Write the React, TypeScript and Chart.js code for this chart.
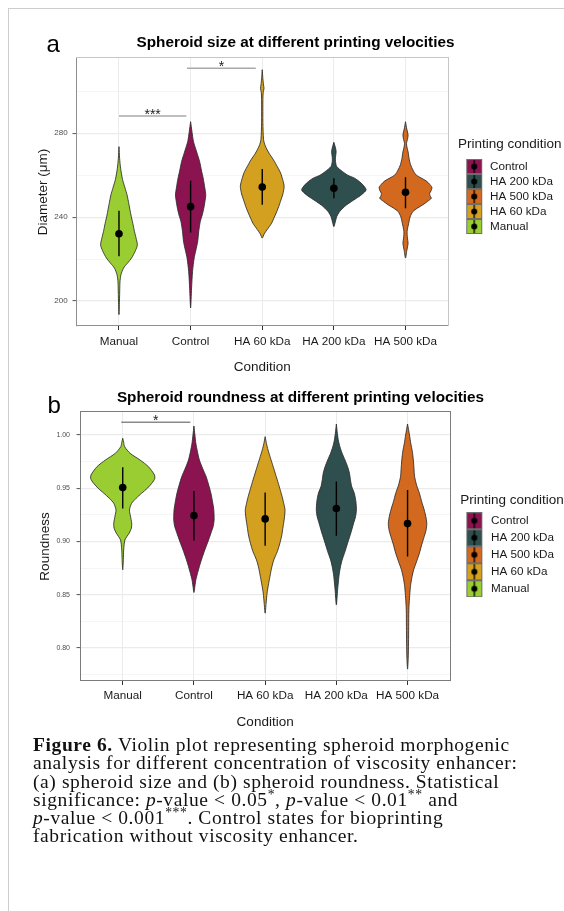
import React, { useEffect, useRef } from 'react';
import { Chart, registerables } from 'chart.js';

Chart.register(...registerables);
Chart.defaults.font.family = "'Liberation Sans', Arial, Helvetica, sans-serif";

// ---------- shared ----------
const categories = ['Manual', 'Control', 'HA 60 kDa', 'HA 200 kDa', 'HA 500 kDa'];
const fillColors = ['#9ACD32', '#8B1450', '#D4A020', '#2F4F4F', '#D2691E'];
const legendTitle = 'Printing condition';
const xTitle = 'Condition';

// ---------- panel a : spheroid size (diameter, µm) ----------
// violin profiles: y values (top -> bottom) and relative density (1 = widest violin)
const sizeManualY = [273.6, 268, 263.3, 258, 253.8, 250.6, 246, 241.1, 237, 233.2, 230, 226.8, 224, 220.5, 218, 215.7, 212.5, 209, 206.2, 200, 193.5];
const sizeManualD = [0, 0.02, 0.05, 0.11, 0.19, 0.25, 0.31, 0.37, 0.43, 0.48, 0.53, 0.57, 0.51, 0.39, 0.26, 0.14, 0.06, 0.03, 0.025, 0.015, 0];
const sizeControlY = [285.5, 281, 276, 271, 266.5, 262, 258.6, 254, 250.6, 247, 244.3, 241, 237.9, 233, 228.4, 224, 220.5, 214.1, 206.2, 196.7];
const sizeControlD = [0, 0.04, 0.09, 0.19, 0.28, 0.34, 0.39, 0.44, 0.47, 0.44, 0.41, 0.36, 0.3, 0.25, 0.22, 0.16, 0.11, 0.06, 0.03, 0];
const sizeHA60Y = [310.3, 306, 303, 301.4, 299.5, 296, 285, 277, 274.5, 272.2, 270, 267.3, 264, 261, 257, 254.6, 251, 248.2, 245, 241.9, 239.5, 237.1, 234, 232, 230];
const sizeHA60D = [0, 0.02, 0.04, 0.055, 0.03, 0.02, 0.02, 0.04, 0.08, 0.15, 0.23, 0.35, 0.47, 0.57, 0.65, 0.68, 0.64, 0.58, 0.51, 0.43, 0.36, 0.29, 0.15, 0.06, 0];
const sizeHA200Y = [275.7, 273, 271.2, 268.5, 266.5, 264.1, 261.7, 260, 258.6, 257, 255.4, 253, 250.6, 249, 247.4, 245.8, 244.3, 242.5, 240.3, 237.5, 235.5];
const sizeHA200D = [0, 0.05, 0.07, 0.05, 0.05, 0.09, 0.27, 0.43, 0.64, 0.79, 0.9, 1.0, 0.85, 0.7, 0.54, 0.39, 0.28, 0.17, 0.09, 0.04, 0];
const sizeHA500Y = [285.5, 282, 279.2, 277, 275.2, 273, 271.2, 268, 264.9, 262.5, 260.1, 257.3, 255.5, 254.1, 252.5, 251.4, 250.2, 249, 247.5, 245.9, 244.3, 242.7, 240, 237.9, 233.2, 230, 227.6, 224, 220.5];
const sizeHA500D = [0, 0.04, 0.08, 0.06, 0.03, 0.05, 0.08, 0.11, 0.16, 0.23, 0.33, 0.64, 0.76, 0.82, 0.79, 0.75, 0.76, 0.8, 0.68, 0.54, 0.37, 0.23, 0.14, 0.11, 0.05, 0.06, 0.08, 0.04, 0];
const sizeMean = [232.1, 245.0, 254.4, 253.8, 251.9];
const sizeLower = [221.3, 232.7, 245.9, 249.0, 244.3];
const sizeUpper = [243.1, 257.4, 263.0, 258.6, 259.0];
const sizeTicks = [200, 220, 240, 260, 280, 300];
const sizeTickLabels = ['200', '', '240', '', '280', ''];
const sizeSigLevel = [288.2, 311.0];
const sizeSigFrom = [1.0, 1.95];
const sizeSigTo = [1.94, 2.91];
const sizeSigText = ['***', '*'];

// ---------- panel b : spheroid roundness ----------
const roundManualY = [0.9969, 0.993, 0.989, 0.9828, 0.9765, 0.9703, 0.9625, 0.959, 0.9547, 0.95, 0.9453, 0.9406, 0.9359, 0.9296, 0.924, 0.9172, 0.9125, 0.9078, 0.9015, 0.8921, 0.883, 0.8734];
const roundManualD = [0, 0.03, 0.06, 0.23, 0.54, 0.8, 0.99, 1.0, 0.91, 0.77, 0.59, 0.42, 0.28, 0.21, 0.24, 0.28, 0.27, 0.2, 0.07, 0.03, 0.02, 0];
const roundControlY = [1.0084, 1.0, 0.9922, 0.9843, 0.9765, 0.9687, 0.9609, 0.9531, 0.9453, 0.9375, 0.9296, 0.9203, 0.914, 0.9078, 0.9, 0.8921, 0.8843, 0.8765, 0.87, 0.864, 0.858, 0.8521];
const roundControlD = [0, 0.03, 0.06, 0.11, 0.17, 0.27, 0.38, 0.46, 0.53, 0.58, 0.62, 0.63, 0.6, 0.53, 0.44, 0.34, 0.25, 0.17, 0.11, 0.06, 0.03, 0];
const roundHA60Y = [0.9984, 0.992, 0.9859, 0.978, 0.9703, 0.9625, 0.9547, 0.9484, 0.9421, 0.9358, 0.9296, 0.922, 0.914, 0.906, 0.8984, 0.8905, 0.8827, 0.875, 0.8671, 0.859, 0.8515, 0.842, 0.8327];
const roundHA60D = [0, 0.04, 0.09, 0.17, 0.25, 0.33, 0.41, 0.47, 0.53, 0.58, 0.62, 0.6, 0.56, 0.52, 0.46, 0.38, 0.27, 0.2, 0.15, 0.1, 0.06, 0.03, 0];
const roundHA200Y = [1.0103, 1.003, 0.9953, 0.989, 0.9828, 0.9765, 0.9703, 0.964, 0.9578, 0.9515, 0.9453, 0.9375, 0.9296, 0.9234, 0.9172, 0.9078, 0.8984, 0.8905, 0.8827, 0.875, 0.8671, 0.855, 0.8405];
const roundHA200D = [0, 0.025, 0.06, 0.11, 0.18, 0.27, 0.35, 0.41, 0.44, 0.48, 0.56, 0.61, 0.625, 0.6, 0.54, 0.45, 0.35, 0.27, 0.18, 0.12, 0.08, 0.04, 0];
const roundHA500Y = [1.0103, 1.0, 0.9922, 0.9843, 0.9765, 0.9687, 0.9609, 0.9531, 0.9453, 0.9375, 0.9296, 0.9234, 0.9172, 0.911, 0.9046, 0.8968, 0.889, 0.881, 0.8734, 0.8655, 0.8577, 0.8467, 0.8358, 0.82, 0.8046, 0.79, 0.7802];
const roundHA500D = [0, 0.06, 0.1, 0.15, 0.18, 0.2, 0.22, 0.28, 0.37, 0.44, 0.52, 0.57, 0.6, 0.58, 0.52, 0.44, 0.37, 0.28, 0.19, 0.13, 0.09, 0.06, 0.04, 0.035, 0.03, 0.02, 0];
const roundMean = [0.9506, 0.9243, 0.9212, 0.9309, 0.9168];
const roundLower = [0.9309, 0.9009, 0.8959, 0.9053, 0.8858];
const roundUpper = [0.9697, 0.9475, 0.9459, 0.9562, 0.9484];
const roundTicks = [0.775, 0.8, 0.825, 0.85, 0.875, 0.9, 0.925, 0.95, 0.975, 1.0];
const roundTickLabels = ['', '0.80', '', '0.85', '', '0.90', '', '0.95', '', '1.00'];
const roundSigLevel = [1.012];
const roundSigFrom = [0.98];
const roundSigTo = [1.95];
const roundSigText = ['*'];

// ---------- helpers ----------
function violinData(center: number, ys: number[], dens: number[], half: number) {
  const right = ys.map((y, i) => ({ x: center + dens[i] * half, y }));
  const left = ys.map((y, i) => ({ x: center - dens[i] * half, y })).reverse();
  return right.concat(left.slice(1));
}

function legendKey(color: string, imgW: number, keyX: number, keyH: number) {
  const c = document.createElement('canvas');
  c.width = imgW;
  c.height = keyH;
  const g = c.getContext('2d') as CanvasRenderingContext2D;
  g.fillStyle = color;
  g.fillRect(keyX, 0, 16, keyH);
  g.strokeStyle = '#6e6e6e';
  g.lineWidth = 1;
  g.strokeRect(keyX + 0.5, 0.5, 15, keyH - 1);
  g.strokeStyle = '#000';
  g.lineWidth = 1.3;
  g.beginPath();
  g.moveTo(keyX + 8, 1);
  g.lineTo(keyX + 8, keyH - 1);
  g.stroke();
  g.fillStyle = '#000';
  g.beginPath();
  g.arc(keyX + 8, keyH / 2, 3, 0, Math.PI * 2);
  g.fill();
  return c;
}

type Panel = any;

const panelA: Panel = {
  left: 28, top: 28, w: 536, h: 355,
  title: 'Spheroid size at different printing velocities',
  yTitle: 'Diameter (μm)',
  yMin: 188.1, yMax: 315.9,
  ticks: sizeTicks, tickLabels: sizeTickLabels,
  profiles: [[sizeManualY, sizeManualD], [sizeControlY, sizeControlD], [sizeHA60Y, sizeHA60D], [sizeHA200Y, sizeHA200D], [sizeHA500Y, sizeHA500D]],
  mean: sizeMean, low: sizeLower, high: sizeUpper,
  sigLevel: sizeSigLevel, sigFrom: sizeSigFrom, sigTo: sizeSigTo, sigText: sizeSigText,
  sigColor: '#a9a9a9', sigWidth: 1.5,
  yAxisW: 48, xAxisH: 57, y2W: 9.5, padR: 1,
  titlePad: { top: 5.8, bottom: 5.8 },
  xTitlePadB: 7.5, yTitlePadT: 7.2,
  xTickPad: 5.2, yTickPad: 4.8, yTickFont: 8,
  legTitleTop: 79.5, legTitleBottom: 3.7, legPad: 3.3, keyH: 15, keyImgW: 23, keyX: 5, pointW: 22.85,
  borderMain: '#8f8f8f', borderSecond: '#c6c6c6',
};

const panelB: Panel = {
  left: 37, top: 383, w: 527, h: 352,
  title: 'Spheroid roundness at different printing velocities',
  yTitle: 'Roundness',
  yMin: 0.769, yMax: 1.0216,
  ticks: roundTicks, tickLabels: roundTickLabels,
  profiles: [[roundManualY, roundManualD], [roundControlY, roundControlD], [roundHA60Y, roundHA60D], [roundHA200Y, roundHA200D], [roundHA500Y, roundHA500D]],
  mean: roundMean, low: roundLower, high: roundUpper,
  sigLevel: roundSigLevel, sigFrom: roundSigFrom, sigTo: roundSigTo, sigText: roundSigText,
  sigColor: '#505050', sigWidth: 1,
  yAxisW: 43, xAxisH: 54, y2W: 10, padR: 0,
  titlePad: { top: 5.3, bottom: 5.3 },
  xTitlePadB: 4.5, yTitlePadT: 0,
  xTickPad: 3.5, yTickPad: 6.5, yTickFont: 7,
  legTitleTop: 81.45, legTitleBottom: 0, legPad: 5.3, keyH: 17, keyImgW: 20, keyX: 1, pointW: 19.55,
  borderMain: '#7c7c7c', borderSecond: '#7c7c7c',
};

function buildConfig(p: Panel): any {
  const half = 0.45;
  const datasets: any[] = [];
  p.profiles.forEach((pr: number[][], i: number) => {
    datasets.push({
      data: violinData(i + 1, pr[0], pr[1], half),
      borderColor: '#2b2b2b', borderWidth: 0.85,
      backgroundColor: fillColors[i], fill: 'shape',
      pointRadius: 0, tension: 0.25, order: 4,
      xAxisID: 'x', yAxisID: 'y',
    });
  });
  p.low.forEach((lo: number, i: number) => {
    datasets.push({
      data: [{ x: i + 1, y: lo }, { x: i + 1, y: p.high[i] }],
      borderColor: '#000', borderWidth: 1.4, pointRadius: 0, fill: false, order: 3,
      xAxisID: 'x', yAxisID: 'y',
    });
  });
  datasets.push({
    data: p.mean.map((m: number, i: number) => ({ x: i + 1, y: m })),
    showLine: false, pointRadius: 3.8, pointBackgroundColor: '#000', pointBorderWidth: 0,
    order: 2, xAxisID: 'x', yAxisID: 'y',
  });
  p.sigLevel.forEach((lv: number, i: number) => {
    datasets.push({
      data: [{ x: p.sigFrom[i], y: lv }, { x: p.sigTo[i], y: lv }],
      borderColor: p.sigColor, borderWidth: p.sigWidth, pointRadius: 0, fill: false, order: 1,
      xAxisID: 'x', yAxisID: 'y',
    });
  });

  const legendOrder = categories.map((c, i) => i).sort((a, b) => (categories[a] < categories[b] ? -1 : 1));

  const sigPlugin = {
    id: 'sigText',
    afterDatasetsDraw(chart: any) {
      const { ctx } = chart;
      const xs = chart.scales.x;
      const ys = chart.scales.y;
      ctx.save();
      ctx.font = "14px 'Liberation Sans', Arial, sans-serif";
      ctx.fillStyle = '#1a1a1a';
      ctx.textAlign = 'center';
      ctx.textBaseline = 'alphabetic';
      p.sigText.forEach((t: string, i: number) => {
        const px = xs.getPixelForValue((p.sigFrom[i] + p.sigTo[i]) / 2);
        const py = ys.getPixelForValue(p.sigLevel[i]);
        ctx.fillText(t, px, py + 3);
      });
      ctx.restore();
    },
  };

  const catPos = categories.map((_, i) => i + 1);

  return {
    type: 'line',
    data: { datasets },
    plugins: [sigPlugin],
    options: {
      responsive: false,
      animation: false,
      events: [],
      layout: { padding: { left: 0, right: p.padR, top: 0, bottom: 0 } },
      scales: {
        x: {
          type: 'linear', position: 'bottom', min: 0.4, max: 5.6,
          afterBuildTicks: (s: any) => { s.ticks = catPos.map((v) => ({ value: v })); },
          afterFit: (s: any) => { s.height = p.xAxisH; },
          ticks: {
            callback: (v: number) => categories[Math.round(v) - 1],
            font: { size: 11.7 }, color: '#1a1a1a', padding: p.xTickPad, maxRotation: 0, autoSkip: false,
          },
          grid: { color: '#ebebeb', lineWidth: 1, tickColor: '#333', tickLength: 4, tickWidth: 1 },
          border: { color: p.borderMain, width: 1 },
          title: { display: true, text: xTitle, font: { size: 13.5 }, color: '#1a1a1a', padding: { top: 0, bottom: p.xTitlePadB } },
        },
        y: {
          type: 'linear', position: 'left', min: p.yMin, max: p.yMax,
          afterBuildTicks: (s: any) => { s.ticks = p.ticks.map((v: number) => ({ value: v })); },
          afterFit: (s: any) => { s.width = p.yAxisW; },
          ticks: {
            callback: (_v: number, i: number) => p.tickLabels[i],
            font: { size: p.yTickFont }, color: '#4d4d4d', padding: p.yTickPad,
          },
          grid: {
            color: (c: any) => (p.tickLabels[c.index] ? '#ebebeb' : '#f2f2f2'),
            lineWidth: (c: any) => (p.tickLabels[c.index] ? 1.2 : 0.8),
            tickColor: (c: any) => (p.tickLabels[c.index] ? '#555' : 'rgba(0,0,0,0)'),
            tickLength: 3.5, tickWidth: 1,
          },
          border: { color: p.borderMain, width: 1 },
          title: { display: true, text: p.yTitle, font: { size: 13.5 }, color: '#1a1a1a', padding: { top: p.yTitlePadT, bottom: 0 } },
        },
        x2: {
          type: 'linear', position: 'top', display: true, min: 0.4, max: 5.6,
          ticks: { display: false }, grid: { display: false, drawTicks: false },
          border: { color: p.borderSecond, width: 1 },
          afterFit: (s: any) => { s.height = 0; },
        },
        y2: {
          type: 'linear', position: 'right', display: true, min: p.yMin, max: p.yMax,
          ticks: { display: false }, grid: { display: false, drawTicks: false },
          border: { color: p.borderSecond, width: 1 },
          afterFit: (s: any) => { s.width = p.y2W; },
        },
      },
      plugins: {
        tooltip: { enabled: false },
        title: {
          display: true, text: p.title, color: '#000',
          font: { size: 15.3, weight: 'bold' }, padding: p.titlePad,
        },
        legend: {
          display: true, position: 'right', align: 'start', fullSize: false, maxWidth: 200,
          title: {
            display: true, text: legendTitle, position: 'start', color: '#1a1a1a',
            font: { size: 13.5 }, padding: { top: p.legTitleTop, bottom: p.legTitleBottom },
          },
          labels: {
            usePointStyle: true, pointStyleWidth: p.pointW, padding: p.legPad,
            font: { size: 11.7 }, color: '#1a1a1a',
            generateLabels: () => legendOrder.map((i) => ({
              text: categories[i],
              pointStyle: legendKey(fillColors[i], p.keyImgW, p.keyX, p.keyH),
              fillStyle: fillColors[i], strokeStyle: 'rgba(0,0,0,0)', lineWidth: 0,
              hidden: false, datasetIndex: i,
            })),
          },
        },
      },
    },
  };
}

function ViolinPanel({ p }: { p: Panel }) {
  const ref = useRef<HTMLCanvasElement>(null);
  useEffect(() => {
    const chart = new Chart(ref.current as HTMLCanvasElement, buildConfig(p));
    return () => chart.destroy();
  }, [p]);
  return (
    <canvas
      ref={ref}
      width={p.w}
      height={p.h}
      style={{ position: 'absolute', left: p.left, top: p.top, width: p.w, height: p.h }}
    />
  );
}

export default function App() {
  const sans = "'Liberation Sans', Arial, Helvetica, sans-serif";
  const sup = { fontSize: '0.7em', lineHeight: 0 };
  return (
    <div style={{ position: 'absolute', left: 0, top: 0, width: 564, height: 911, background: '#fff', overflow: 'hidden' }}>
      <div style={{ position: 'absolute', left: 8, top: 8, width: 556, height: 903, borderLeft: '1.5px solid #cdcdcd', borderTop: '1.5px solid #cdcdcd', boxSizing: 'border-box' }} />
      <ViolinPanel p={panelA} />
      <ViolinPanel p={panelB} />
      <div style={{ position: 'absolute', left: 46.5, top: 32, fontFamily: sans, fontSize: 24, lineHeight: 1, color: '#000' }}>a</div>
      <div style={{ position: 'absolute', left: 47.5, top: 393, fontFamily: sans, fontSize: 24, lineHeight: 1, color: '#000' }}>b</div>
      <div style={{ position: 'absolute', left: 33, top: 736, fontFamily: "'Liberation Serif', 'Times New Roman', serif", fontSize: 19.5, lineHeight: '18.3px', letterSpacing: '0.6px', color: '#111', whiteSpace: 'nowrap' }}>
        <b>Figure 6.</b> Violin plot representing spheroid morphogenic<br />
        analysis for different concentration of viscosity enhancer:<br />
        (a) spheroid size and (b) spheroid roundness. Statistical<br />
        significance: <i>p</i>-value {'<'} 0.05<sup style={sup}>*</sup>, <i>p</i>-value {'<'} 0.01<sup style={sup}>**</sup> and<br />
        <i>p</i>-value {'<'} 0.001<sup style={sup}>***</sup>. Control states for bioprinting<br />
        fabrication without viscosity enhancer.
      </div>
    </div>
  );
}
